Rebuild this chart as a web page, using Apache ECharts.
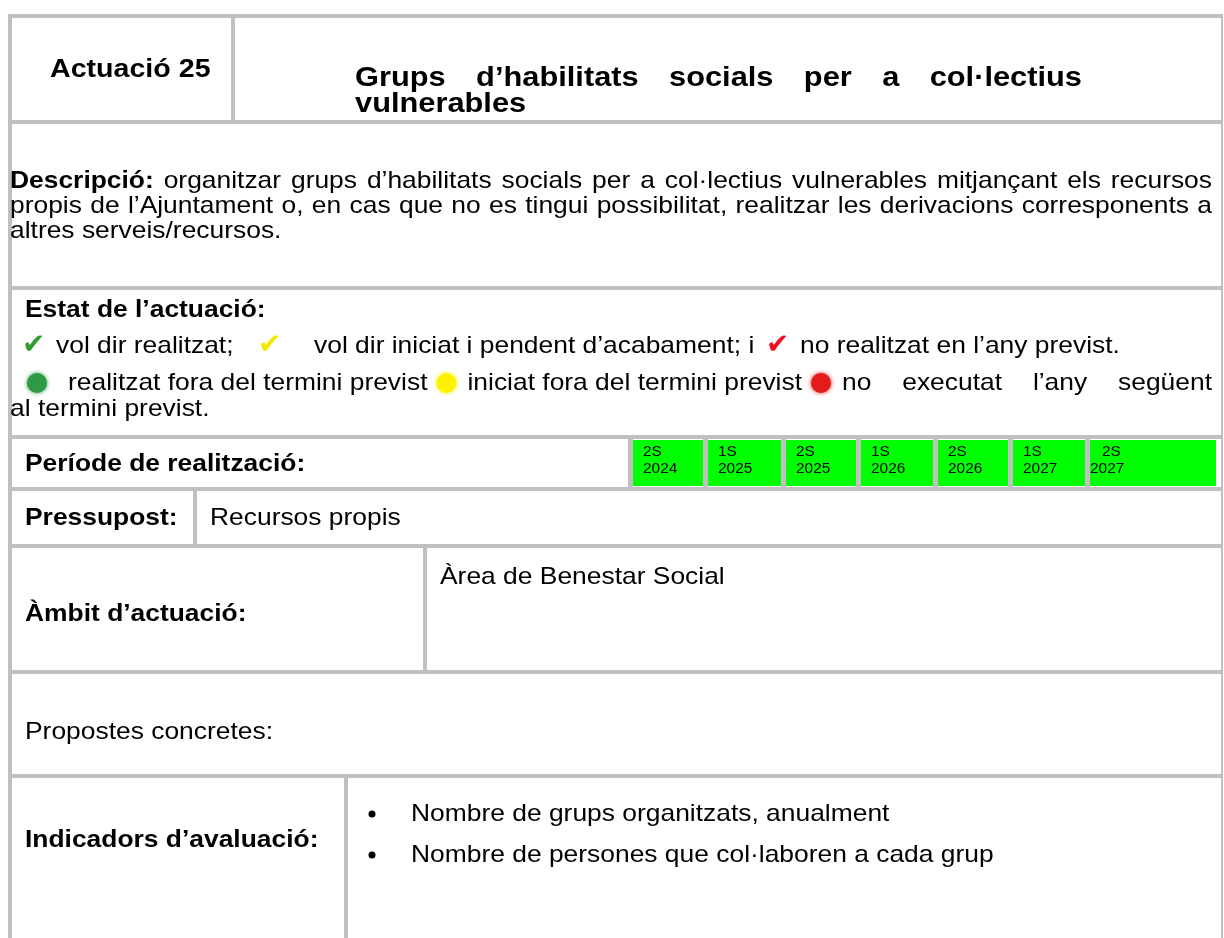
<!DOCTYPE html>
<html><head><meta charset="utf-8">
<script src="https://cdn.jsdelivr.net/npm/echarts@6/dist/echarts.min.js"></script>
<style>html,body{margin:0;padding:0;background:#fff}#c{width:1224px;height:938px}</style>
</head><body><div id="c"></div>
<script>
// ---- content ----
const actionLabel = 'Actuació 25';
const titleLine1 = 'Grups d’habilitats socials per a col·lectius';
const titleLine2 = 'vulnerables';
const descLabel = 'Descripció:';
const descLine1 = 'organitzar grups d’habilitats socials per a col·lectius vulnerables mitjançant els recursos';
const descLine2 = 'propis de l’Ajuntament o, en cas que no es tingui possibilitat, realitzar les derivacions corresponents a';
const descLine3 = 'altres serveis/recursos.';
const statusLabel = 'Estat de l’actuació:';
const checkTexts = ['vol dir realitzat;', 'vol dir iniciat i pendent d’acabament; i', 'no realitzat en l’any previst.'];
const checkColors = ['#2e9e2e', '#f5e800', '#ee1020'];
const dotTexts = ['realitzat fora del termini previst', 'iniciat fora del termini previst', 'no executat l’any següent'];
const dotColors = ['#2f9a46', '#fff200', '#e31b1b'];
const dotTail = 'al termini previst.';
const periodLabel = 'Període de realització:';
const periodSem = ['2S', '1S', '2S', '1S', '2S', '1S', '2S'];
const periodYear = ['2024', '2025', '2025', '2026', '2026', '2027', '2027'];
const budgetLabel = 'Pressupost:';
const budgetValue = 'Recursos propis';
const scopeLabel = 'Àmbit d’actuació:';
const scopeValue = 'Àrea de Benestar Social';
const proposalsLabel = 'Propostes concretes:';
const indicatorsLabel = 'Indicadors d’avaluació:';
const indicators = ['Nombre de grups organitzats, anualment', 'Nombre de persones que col·laboren a cada grup'];

// ---- layout ----
const FONT = '"Liberation Sans", Arial, sans-serif';
const BS = 24;     // body size
const SX = 1.1;    // horizontal stretch of the source rendering
const GRAY = '#c0c0c0';
const ctx = document.createElement('canvas').getContext('2d');
function fnt(size, bold) { return (bold ? 'bold ' : '') + size + 'px ' + FONT; }
function meas(t, size, bold) { ctx.font = fnt(size, bold); return ctx.measureText(t).width * SX; }

const G = [];
function rect(x, y, w, h, fill) { G.push({ type: 'rect', shape: { x, y, width: w, height: h }, style: { fill }, silent: true }); }
function text(t, x, y, size, bold, fill) {
  G.push({ type: 'text', x, y, scaleX: SX, style: { text: t, font: fnt(size, bold), fill: fill || '#000', verticalAlign: 'middle', align: 'left' }, silent: true });
}
function hline(y, x1, x2, t) { rect(x1, y, x2 - x1, t || 4, GRAY); }
function vline(x, y1, y2, t) { rect(x, y1, t || 4, y2 - y1, GRAY); }

function justify(items, x1, x2, y) {
  let total = 0;
  items.forEach(it => { it.w = it.icon ? it.iw : meas(it.t, it.size, it.bold); total += it.w; });
  const gap = (x2 - x1 - total) / (items.length - 1);
  let x = x1;
  items.forEach(it => {
    if (it.icon) it.draw(x, y); else text(it.t, x, y, it.size, it.bold);
    x += it.w + gap;
  });
}
function words(s, size, bold) { return s.split(' ').map(t => ({ t, size, bold })); }

// borders
const L = 8, R = 1221, T = 14;
const rowY = [14, 120, 286, 435, 487, 544, 670, 774];
rowY.forEach(y => hline(y, L, R + 2));
vline(L, T, 938);
vline(R, T, 938, 2);
vline(231, rowY[0], rowY[1]);
vline(193, rowY[4], rowY[5]);
vline(423, rowY[5], rowY[6]);
vline(344, rowY[7], 938);

// header
text(actionLabel, 50, 70, 26, true);
justify(words(titleLine1, 28, true), 355, 1082, 78);
text(titleLine2, 355, 104, 28, true);

// description
justify([{ t: descLabel, size: BS, bold: true }].concat(words(descLine1, BS, false)), 10, 1212, 181);
justify(words(descLine2, BS, false), 10, 1212, 206);
text(descLine3, 10, 231, BS, false);

// status
text(statusLabel, 25, 310, BS, true);
const checkX = [22, 258, 766], checkTextX = [56, 314, 800];
for (let i = 0; i < 3; i++) {
  G.push({ type: 'text', x: checkX[i], y: 346, style: { text: '✔', font: '28px "DejaVu Sans"', fill: checkColors[i], verticalAlign: 'middle' }, silent: true });
  text(checkTexts[i], checkTextX[i], 346, BS, false);
}
// dot line: dot, gap, phrase, gap ... ; last phrase justified to the right margin
const DOT_R = 10, GAP_DOT_TEXT = 11, GAP_TEXT_DOT = 9;
let dx = 27;
for (let i = 0; i < 3; i++) {
  G.push({ type: 'circle', shape: { cx: dx + DOT_R, cy: 383, r: DOT_R }, style: { fill: dotColors[i], shadowBlur: 4, shadowColor: dotColors[i] }, silent: true });
  dx += 2 * DOT_R + (i === 0 ? 21 : GAP_DOT_TEXT);
  if (i < 2) {
    text(dotTexts[i], dx, 383, BS, false);
    dx += meas(dotTexts[i], BS, false) + GAP_TEXT_DOT;
  } else {
    justify(words(dotTexts[i], BS, false), dx, 1212, 383);
  }
}
text(dotTail, 10, 409, BS, false);

// period
text(periodLabel, 25, 464, BS, true);
const cellTop = rowY[3] + 4, cellBot = rowY[4];
vline(628, cellTop, cellBot, 5);
const cellX = [633, 708, 786, 861, 938, 1013, 1090, 1221];
for (let i = 0; i < periodSem.length; i++) {
  const x0 = cellX[i], x1 = cellX[i + 1] - 5;
  rect(x0, cellTop + 1, x1 - x0, cellBot - cellTop - 2, '#00ff00');
  if (i < periodSem.length - 1) rect(x1, cellTop, 5, cellBot - cellTop, GRAY);
  const last = i === periodSem.length - 1;
  text(periodSem[i], x0 + (last ? 12 : 10), 452, 14, false);
  text(periodYear[i], x0 + (last ? 0 : 10), 469, 14, false);
}

// budget
text(budgetLabel, 25, 518, BS, true);
text(budgetValue, 210, 518, BS, false);

// scope
text(scopeValue, 440, 577, BS, false);
text(scopeLabel, 25, 614, BS, true);

// proposals
text(proposalsLabel, 25, 732, BS, false);

// indicators
text(indicatorsLabel, 25, 840, BS, true);
indicators.forEach((t, i) => {
  const y = 814 + i * 41;
  G.push({ type: 'circle', shape: { cx: 372, cy: y, r: 3.5 }, style: { fill: '#000' }, silent: true });
  text(t, 411, y, BS, false);
});

const chart = echarts.init(document.getElementById('c'), null, { renderer: 'canvas' });
chart.setOption({ animation: false, backgroundColor: '#fff', graphic: { elements: G } });
</script></body></html>
